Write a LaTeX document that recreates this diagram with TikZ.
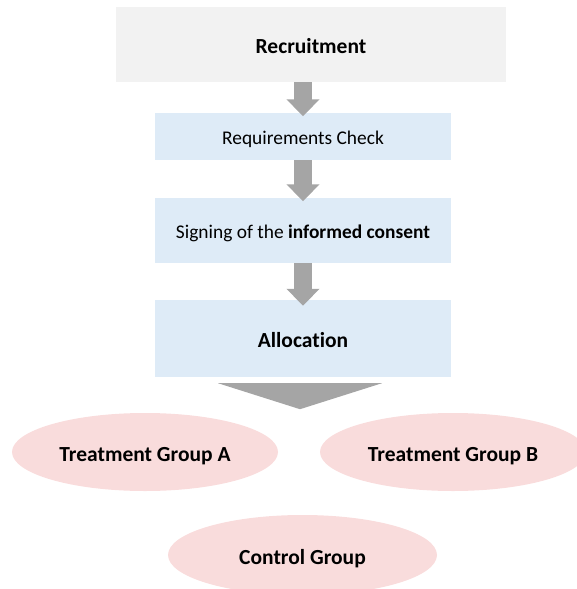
\documentclass[tikz,border=0pt]{standalone}
\usepackage{fontspec}
\setmainfont{Carlito}[Ligatures=NoCommon]
\usetikzlibrary{arrows.meta,calc,shapes.geometric}
\definecolor{recgray}{HTML}{F2F2F2}
\definecolor{boxblue}{HTML}{DEEBF7}
\definecolor{grpink}{HTML}{F9DCDC}
\definecolor{arrgray}{HTML}{A5A5A5}
\begin{document}
\begin{tikzpicture}[x=1pt,y=-1pt,
  stepbox/.style={rectangle,fill=boxblue,minimum width=296pt,inner sep=0pt,font=\fontsize{19.4}{23}\selectfont,text height=16.5pt,text depth=0pt},
  boldtext/.style={font=\fontsize{21.5}{25}\selectfont\bfseries,text height=18.3pt,text depth=0pt},
  grp/.style={ellipse,fill=grpink,minimum width=266pt,minimum height=78pt,inner sep=0pt,boldtext},
  flow/.style={draw=arrgray,line width=17.4pt,line cap=butt,-{Triangle[width=32pt,length=17pt]},shorten >=-3.5pt}]
\useasboundingbox (0,0) rectangle (577,589);
\node[rectangle,fill=recgray,minimum width=390pt,minimum height=75pt,inner sep=0pt,boldtext] (rec) at (311,44.5) {Recruitment};
\node[stepbox,minimum height=47pt] (req) at (303,136.5) {Requirements Check};
\node[stepbox,minimum height=65pt] (sign) at (303,230.5) {Signing of the \textbf{informed consent}};
\node[stepbox,minimum height=77pt,boldtext] (alloc) at (303,338.5) {Allocation};
\draw[flow] (req.north |- rec.south) -- (req.north);
\draw[flow] (req.south) -- (sign.north);
\draw[flow,shorten >=-6pt] (sign.south) -- (alloc.north);
\node[grp] (ga) at (145,452) {Treatment Group A};
\node[grp] (gb) at (453,452) {Treatment Group B};
\node[grp,minimum width=269pt,minimum height=80pt] (gc) at (302.5,555) {Control Group};
\fill[arrgray] ($(alloc.south)+(-85,6)$) -- ($(alloc.south)+(79,6)$) -- ($(alloc.south)+(-3,32)$) -- cycle;
\end{tikzpicture}
\end{document}
